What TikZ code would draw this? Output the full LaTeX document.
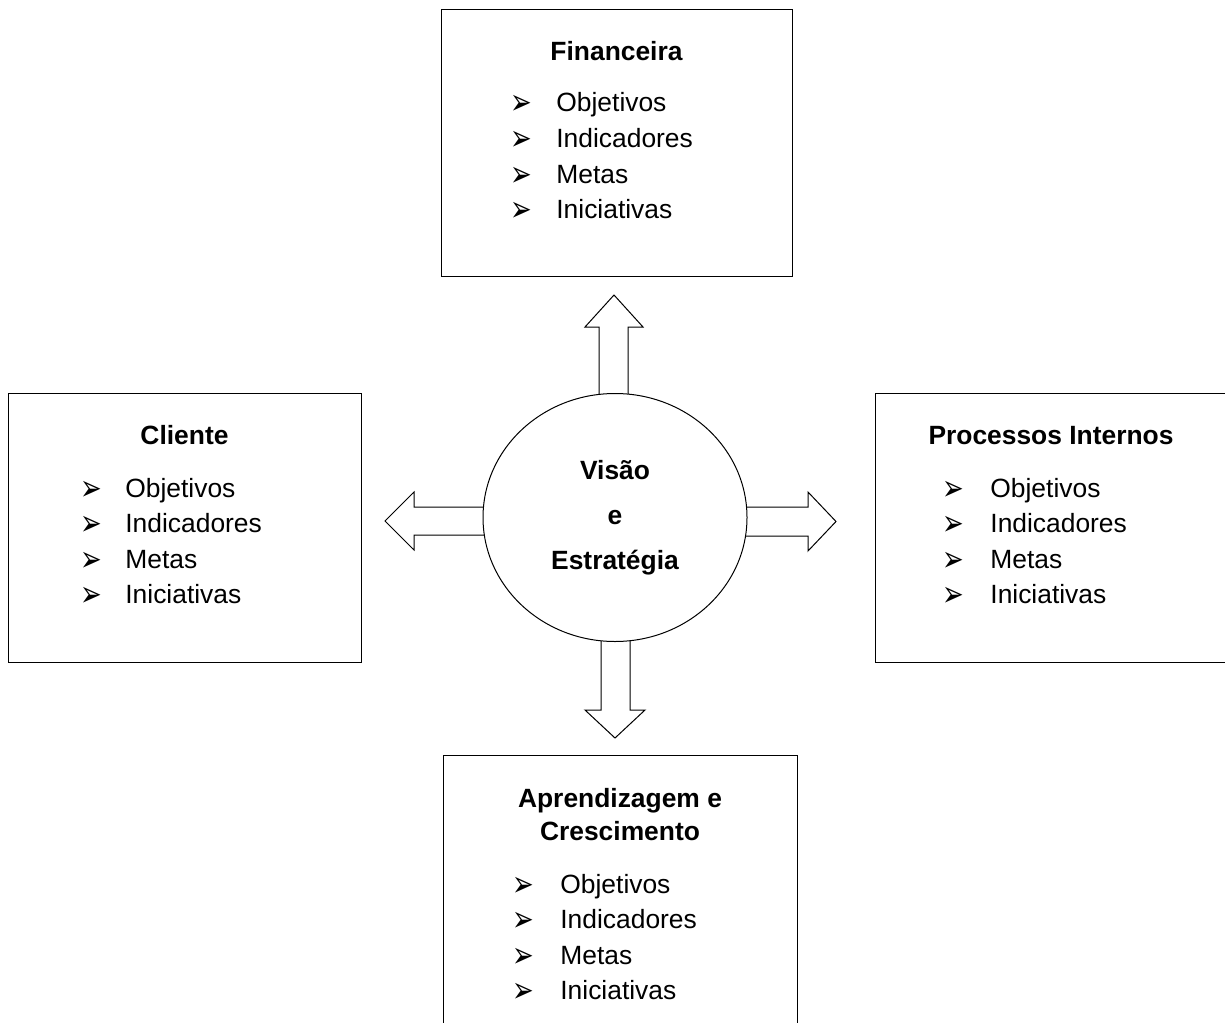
\documentclass[tikz,border=0pt]{standalone}
\usepackage{fontspec}
\setmainfont{Liberation Sans}
\newfontfamily\setafont{DejaVu Sans}
\usetikzlibrary{shapes.geometric}

% marcador de lista
\newcommand{\marca}{\raisebox{-1.5pt}{\scalebox{0.72}[1]{➢}}}
% lista de itens: prefixo, x do marcador, x do texto, linha de base
\newcommand{\itens}[4]{%
 \foreach \t [count=\i] in {Objetivos,Indicadores,Metas,Iniciativas} {
  \node[bala] (#1b\i) at (#2,{#4+35.6*(\i-1)}) {\marca};
  \node[item] (#1i\i) at (#3,{#4+35.6*(\i-1)}) {\t};
 }}

\begin{document}
\begin{tikzpicture}[x=0.5pt, y=-0.5pt,
 caixa/.style={draw, line width=0.5pt, inner sep=0},
 titulo/.style={font=\fontsize{13.2}{16.5}\selectfont\bfseries, anchor=base, align=center, inner sep=0},
 item/.style={font=\fontsize{13.2}{16}\selectfont, anchor=base west, inner sep=0},
 bala/.style={font=\setafont\fontsize{18}{19}\selectfont, anchor=base west, inner sep=0},
 seta/.style={draw, line width=0.5pt, fill=white, line join=miter}]
\useasboundingbox (0,0) rectangle (1225,1022);

% caixas
\node[caixa, minimum width=175.5pt, minimum height=133pt] (fin) at (616.5,143) {};
\node[caixa, minimum width=176.5pt, minimum height=134.5pt] (cli) at (184.5,527.5) {};
\node[caixa, minimum width=176pt, minimum height=134.5pt] (pro) at (1051,527.5) {};
\node[caixa, minimum width=177pt, minimum height=135pt] (apr) at (620,890) {};

% titulos
\node[titulo] (finT) at (616.5,61) {Financeira};
\node[titulo] (cliT) at (184.5,444) {Cliente};
\node[titulo] (proT) at (1051,444) {Processos Internos};
\node[titulo, anchor=north] (aprT) at (620,788) {Aprendizagem e\\Crescimento};

\itens{fin}{510}{556}{112}
\itens{cli}{80}{125}{497}
\itens{pro}{942}{990}{497}
\itens{apr}{512}{560}{893}

% setas
\coordinate (c) at (615,517.5);
\draw[seta] (599,430) -- (599,327) -- (585,327) -- (614,295) -- (643,327) -- (628,327) -- (628,430);
\draw[seta] (601,610) -- (601,710) -- (585,710) -- (615,738) -- (645,710) -- (630,710) -- (630,610);
\draw[seta] (520,507) -- (414,507) -- (414,492) -- (385,521) -- (414,550) -- (414,535) -- (520,535);
\draw[seta] (710,507) -- (808,507) -- (808,492) -- (836,521.5) -- (808,551) -- (808,536) -- (710,536);

% circulo central
\node[ellipse, draw, line width=0.5pt, fill=white, minimum width=132pt, minimum height=124pt,
 font=\fontsize{13.2}{13.5}\selectfont\bfseries, align=center] (vis) at (c)
 {Visão\\[9pt]e\\[9pt]Estratégia};
\end{tikzpicture}
\end{document}
